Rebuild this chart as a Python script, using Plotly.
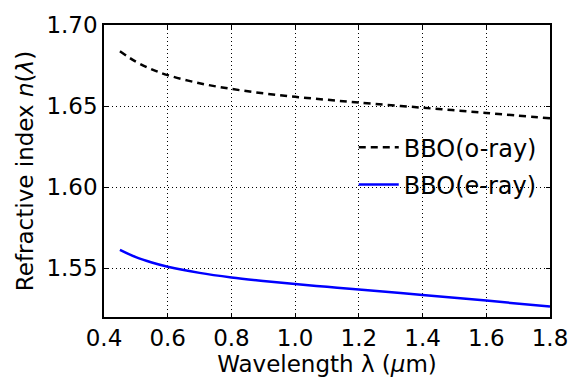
import plotly.graph_objects as go

wavelength = [0.45, 0.50, 0.55, 0.60, 0.70, 0.80, 0.90, 1.00, 1.10, 1.20, 1.40, 1.60, 1.80]
n_o = [1.6838, 1.6774, 1.6727, 1.6691, 1.6641, 1.6606, 1.6579, 1.6557, 1.6539, 1.6522, 1.6490, 1.6458, 1.6425]
n_e = [1.5614, 1.5569, 1.5536, 1.5510, 1.5472, 1.5444, 1.5422, 1.5403, 1.5386, 1.5369, 1.5336, 1.5301, 1.5264]

x_ticks = [0.4, 0.6, 0.8, 1.0, 1.2, 1.4, 1.6, 1.8]
x_ticklabels = ["0.4", "0.6", "0.8", "1.0", "1.2", "1.4", "1.6", "1.8"]
y_ticks = [1.55, 1.60, 1.65, 1.70]
y_ticklabels = ["1.55", "1.60", "1.65", "1.70"]

font = "DejaVu Sans"
fs = 23

fig = go.Figure()
fig.add_trace(go.Scatter(x=wavelength, y=n_o, mode="lines", name="BBO(o-ray)",
                         line=dict(color="black", width=2.5, dash="7px,5px", shape="spline"),
                         legendgroup="o"))
fig.add_trace(go.Scatter(x=wavelength, y=n_e, mode="lines", name="BBO(e-ray)",
                         line=dict(color="#0000ff", width=2.5, shape="spline"),
                         legendgroup="e"))

axis_common = dict(showline=True, linecolor="black", linewidth=1.5, mirror="ticks",
                   ticks="inside", ticklen=4, tickcolor="black",
                   showgrid=True, gridcolor="black", gridwidth=0.8, griddash="1px,3px",
                   zeroline=False, tickfont=dict(family=font, size=fs, color="black"))

fig.update_xaxes(range=[0.4, 1.8], tickvals=x_ticks, ticktext=x_ticklabels,
                 title=dict(text="Wavelength λ (<i>μ</i>m)", font=dict(family=font, size=fs, color="black"),
                            standoff=4),
                 **axis_common)
fig.update_yaxes(range=[1.52, 1.70], tickvals=y_ticks, ticktext=y_ticklabels,
                 title=dict(text="Refractive index <i>n</i>(<i>λ</i>)", font=dict(family=font, size=fs, color="black"),
                            standoff=6),
                 **axis_common)

fig.update_layout(
    width=580, height=383,
    margin=dict(l=104, r=19, t=14, b=64),
    plot_bgcolor="white", paper_bgcolor="white",
    font=dict(family=font, size=fs, color="black"),
    showlegend=True,
    legend=dict(x=0.56, y=0.657, xanchor="left", yanchor="top", bgcolor="rgba(0,0,0,0)",
                font=dict(family=font, size=24, color="black"),
                tracegroupgap=3, itemwidth=40),
)

fig.write_html("out.html")
